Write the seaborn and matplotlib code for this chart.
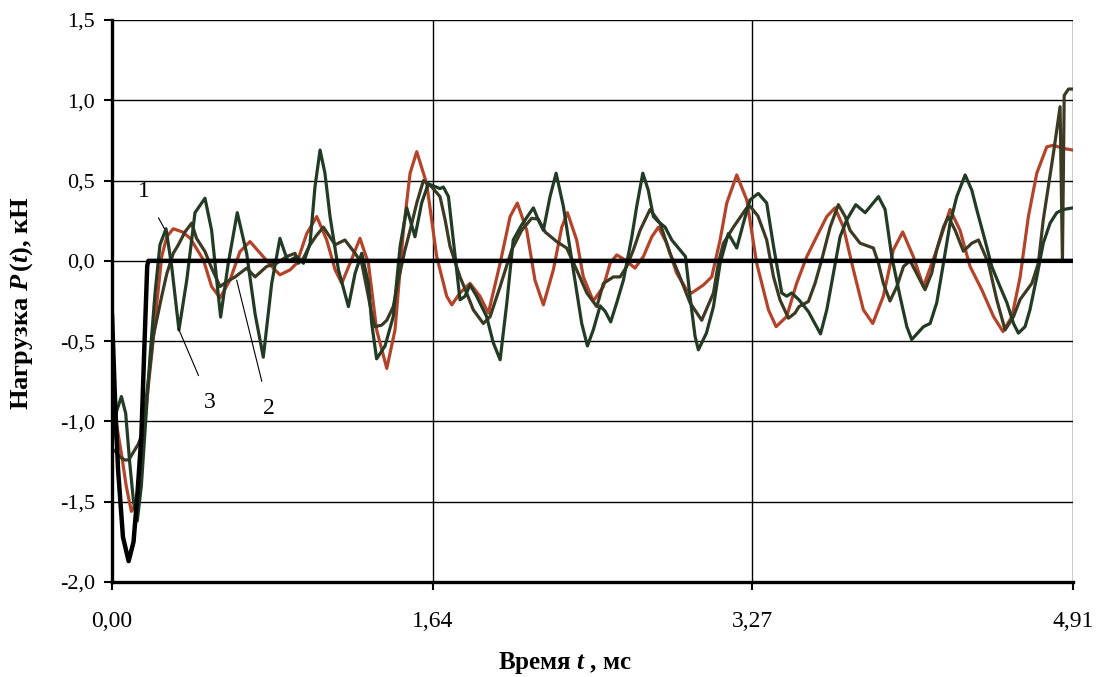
import matplotlib
matplotlib.use("Agg")
import matplotlib.pyplot as plt
import seaborn as sns
import numpy as np
import pandas as pd
from matplotlib.ticker import FuncFormatter, FixedLocator

# ---- data ----
t_load = [0.0, 0.015, 0.031, 0.056, 0.085, 0.11, 0.13, 0.15, 0.165, 0.18, 0.186, 4.91]
p_load = [-0.33, -0.85, -1.30, -1.72, -1.87, -1.75, -1.45, -1.09, -0.55, -0.03, 0.0, 0.0]

# curve 1 (red)
t_1 = [0.0, 0.022, 0.048, 0.073, 0.099, 0.124, 0.15, 0.175, 0.203, 0.23, 0.254, 0.28, 0.313,
       0.36, 0.40, 0.467, 0.509, 0.552, 0.603, 0.654, 0.705, 0.78, 0.824, 0.858, 0.91, 0.944,
       0.995, 1.046, 1.097, 1.14, 1.174, 1.216, 1.267, 1.31, 1.352, 1.404, 1.446, 1.489,
       1.523, 1.557, 1.608, 1.659, 1.71, 1.736, 1.778, 1.829, 1.88, 1.923, 1.983, 2.034,
       2.071, 2.119, 2.161, 2.204, 2.255, 2.298, 2.327, 2.374, 2.408, 2.459, 2.511, 2.545,
       2.579, 2.621, 2.672, 2.715, 2.758, 2.792, 2.834, 2.885, 2.936, 2.962, 3.022, 3.064,
       3.107, 3.141, 3.192, 3.243, 3.294, 3.354, 3.393, 3.447, 3.498, 3.55, 3.60, 3.652,
       3.694, 3.737, 3.788, 3.839, 3.887, 3.941, 3.992, 4.04, 4.094, 4.146, 4.214, 4.282,
       4.333, 4.384, 4.444, 4.504, 4.552, 4.598, 4.64, 4.682, 4.725, 4.776, 4.81, 4.861, 4.91]
p_1 = [-0.845, -1.01, -1.20, -1.405, -1.56, -1.51, -1.20, -0.90, -0.58, -0.25, 0.027, 0.15,
       0.20, 0.18, 0.14, 0.006, -0.16, -0.23, -0.12, 0.058, 0.12, 0.016, -0.045, -0.087,
       -0.056, -0.015, 0.17, 0.276, 0.13, -0.056, -0.14, -0.015, 0.14, -0.015, -0.43, -0.67,
       -0.43, 0.19, 0.546, 0.68, 0.48, 0.027, -0.22, -0.274, -0.20, -0.14, -0.22, -0.325,
       -0.015, 0.276, 0.36, 0.19, -0.12, -0.274, -0.056, 0.21, 0.30, 0.13, -0.10, -0.25,
       -0.16, -0.015, 0.037, 0.006, -0.045, 0.027, 0.15, 0.21, 0.11, -0.077, -0.18, -0.20,
       -0.15, -0.10, 0.13, 0.36, 0.535, 0.38, -0.015, -0.305, -0.41, -0.347, -0.14, 0.027,
       0.15, 0.276, 0.33, 0.21, -0.056, -0.305, -0.39, -0.22, 0.068, 0.18, 0.027, -0.16,
       0.07, 0.32, 0.19, -0.035, -0.18, -0.347, -0.44, -0.347, -0.10, 0.276, 0.546, 0.71,
       0.72, 0.70, 0.69]

# curve 2 (dark olive)
t_2 = [0.0, 0.02, 0.04, 0.065, 0.085, 0.10, 0.115, 0.135, 0.15, 0.17, 0.19, 0.211, 0.254,
       0.28, 0.313, 0.339, 0.373, 0.407, 0.432, 0.475, 0.509, 0.552, 0.586, 0.629, 0.688,
       0.731, 0.79, 0.841, 0.893, 0.935, 0.952, 0.978, 1.012, 1.046, 1.08, 1.14, 1.19, 1.242,
       1.276, 1.30, 1.327, 1.344, 1.378, 1.404, 1.437, 1.463, 1.497, 1.523, 1.557, 1.591,
       1.634, 1.676, 1.702, 1.727, 1.778, 1.812, 1.846, 1.897, 1.932, 1.983, 2.042, 2.093,
       2.144, 2.178, 2.213, 2.272, 2.323, 2.374, 2.426, 2.477, 2.511, 2.562, 2.596, 2.63,
       2.664, 2.698, 2.749, 2.80, 2.851, 2.894, 2.953, 3.013, 3.073, 3.098, 3.124, 3.175,
       3.243, 3.26, 3.30, 3.345, 3.38, 3.413, 3.456, 3.49, 3.51, 3.558, 3.592, 3.626, 3.669,
       3.711, 3.746, 3.771, 3.822, 3.89, 3.916, 3.941, 3.975, 4.01, 4.044, 4.078, 4.12,
       4.154, 4.188, 4.214, 4.248, 4.273, 4.308, 4.35, 4.393, 4.427, 4.478, 4.52, 4.563,
       4.606, 4.64, 4.70, 4.733, 4.758, 4.81, 4.844, 4.856, 4.865, 4.887, 4.91]
p_2 = [-1.17, -1.19, -1.22, -1.24, -1.24, -1.21, -1.18, -1.14, -1.09, -0.90, -0.70, -0.47,
       -0.22, -0.08, 0.047, 0.10, 0.18, 0.235, 0.14, 0.058, -0.045, -0.16, -0.13, -0.10,
       -0.045, -0.10, -0.035, -0.015, 0.027, 0.047, -0.015, 0.016, 0.10, 0.16, 0.21, 0.10,
       0.13, 0.047, -0.015, -0.16, -0.33, -0.41, -0.40, -0.37, -0.285, -0.12, 0.068, 0.19,
       0.36, 0.50, 0.46, 0.40, 0.255, 0.09, -0.10, -0.20, -0.305, -0.39, -0.347, -0.16,
       0.068, 0.19, 0.265, 0.26, 0.18, 0.12, 0.08, -0.056, -0.20, -0.285, -0.14, -0.10,
       -0.10, -0.035, 0.068, 0.19, 0.32, 0.235, 0.047, -0.077, -0.26, -0.37, -0.20, -0.015,
       0.11, 0.21, 0.33, 0.34, 0.28, 0.13, -0.10, -0.243, -0.357, -0.325, -0.285, -0.253,
       -0.14, 0.006, 0.21, 0.35, 0.276, 0.19, 0.11, 0.08, -0.015, -0.14, -0.25, -0.16,
       -0.035, 0.0, -0.10, -0.18, -0.077, 0.07, 0.21, 0.275, 0.19, 0.06, 0.11, 0.13, -0.015,
       -0.24, -0.43, -0.347, -0.24, -0.14, -0.015, 0.255, 0.67, 0.96, 0.0, 1.03, 1.07, 1.07]

# curve 3 (dark green)
t_3 = [0.0, 0.02, 0.048, 0.07, 0.09, 0.11, 0.129, 0.15, 0.167, 0.194, 0.22, 0.245, 0.276,
       0.305, 0.342, 0.382, 0.424, 0.475, 0.509, 0.535, 0.555, 0.594, 0.64, 0.688, 0.731,
       0.773, 0.816, 0.858, 0.884, 0.90, 0.944, 0.978, 1.012, 1.037, 1.063, 1.088, 1.114,
       1.157, 1.208, 1.242, 1.276, 1.31, 1.327, 1.352, 1.395, 1.437, 1.472, 1.506, 1.548,
       1.582, 1.616, 1.676, 1.693, 1.719, 1.744, 1.778, 1.804, 1.829, 1.863, 1.914, 1.948,
       1.983, 2.017, 2.05, 2.093, 2.153, 2.178, 2.204, 2.238, 2.269, 2.306, 2.357, 2.40,
       2.429, 2.459, 2.494, 2.52, 2.548, 2.579, 2.613, 2.656, 2.681, 2.712, 2.74, 2.766,
       2.79, 2.826, 2.86, 2.894, 2.93, 2.953, 2.979, 2.996, 3.037, 3.073, 3.107, 3.149,
       3.192, 3.226, 3.26, 3.302, 3.345, 3.38, 3.422, 3.447, 3.473, 3.51, 3.558, 3.60, 3.62,
       3.652, 3.686, 3.72, 3.754, 3.80, 3.848, 3.882, 3.916, 3.95, 3.984, 4.026, 4.061,
       4.086, 4.146, 4.18, 4.214, 4.248, 4.282, 4.316, 4.359, 4.393, 4.418, 4.46, 4.495,
       4.537, 4.572, 4.606, 4.631, 4.665, 4.69, 4.725, 4.758, 4.793, 4.827, 4.861, 4.91]
p_3 = [-1.156, -0.95, -0.845, -0.95, -1.25, -1.50, -1.62, -1.40, -1.09, -0.60, -0.20, 0.10,
       0.20, -0.035, -0.43, -0.12, 0.30, 0.39, 0.19, -0.12, -0.35, -0.015, 0.30, 0.047,
       -0.33, -0.60, -0.14, 0.14, 0.047, -0.004, 0.027, -0.015, 0.11, 0.46, 0.69, 0.546,
       0.276, -0.056, -0.285, -0.077, 0.047, -0.14, -0.39, -0.61, -0.53, -0.347, 0.09, 0.33,
       0.15, 0.36, 0.48, 0.45, 0.46, 0.40, 0.13, -0.243, -0.22, -0.15, -0.22, -0.347, -0.51,
       -0.616, -0.265, 0.13, 0.224, 0.33, 0.255, 0.19, 0.40, 0.546, 0.34, -0.056, -0.39,
       -0.53, -0.43, -0.28, -0.315, -0.38, -0.26, -0.12, 0.15, 0.34, 0.546, 0.44, 0.276,
       0.245, 0.21, 0.13, 0.08, 0.027, -0.22, -0.47, -0.554, -0.45, -0.285, -0.015, 0.17,
       0.08, 0.235, 0.38, 0.42, 0.36, 0.09, -0.20, -0.22, -0.20, -0.243, -0.316, -0.41,
       -0.455, -0.305, -0.077, 0.15, 0.255, 0.35, 0.30, 0.35, 0.40, 0.32, 0.027, -0.22,
       -0.41, -0.49, -0.41, -0.39, -0.26, -0.015, 0.235, 0.40, 0.535, 0.44, 0.32, 0.13,
       -0.035, -0.16, -0.26, -0.39, -0.45, -0.41, -0.305, -0.10, 0.11, 0.235, 0.30, 0.32,
       0.33]

x_ticks = [0.0, 1.64, 3.27, 4.91]
y_ticks = [-2.0, -1.5, -1.0, -0.5, 0.0, 0.5, 1.0, 1.5]
curve_labels = ["1", "2", "3"]

# ---- style ----
sns.set_theme(style="white")
plt.rcParams["font.family"] = ["Liberation Serif", "DejaVu Serif"]
plt.rcParams["text.color"] = "black"
plt.rcParams["axes.labelcolor"] = "black"
plt.rcParams["mathtext.fontset"] = "custom"
plt.rcParams["mathtext.rm"] = "Liberation Serif"
plt.rcParams["mathtext.it"] = "Liberation Serif:italic"
plt.rcParams["mathtext.bf"] = "Liberation Serif:bold"
plt.rcParams["mathtext.bfit"] = "Liberation Serif:italic:bold"

fig = plt.figure(figsize=(10.99, 6.77), dpi=100)
ax = fig.add_axes([112/1099, 1-582/677, (1073-112)/1099, (582-20)/677])

c_red = "#B3442A"
c_olive = "#3D3A23"
c_green = "#223B24"

sns.lineplot(x=t_1, y=p_1, ax=ax, color=c_red, lw=2.3, sort=False, estimator=None)
sns.lineplot(x=t_2, y=p_2, ax=ax, color=c_olive, lw=2.3, sort=False, estimator=None)
sns.lineplot(x=t_3, y=p_3, ax=ax, color=c_green, lw=2.3, sort=False, estimator=None)
sns.lineplot(x=t_load, y=p_load, ax=ax, color="black", lw=3.2, sort=False, estimator=None)
for l in ax.lines:
    l.set_solid_joinstyle("round")
    l.set_solid_capstyle("round")

ax.set_xlim(0, 4.91)
ax.set_ylim(-2.0, 1.5)
ax.xaxis.set_major_locator(FixedLocator(x_ticks))
ax.yaxis.set_major_locator(FixedLocator(y_ticks))
ax.xaxis.set_major_formatter(FuncFormatter(lambda v, p: f"{v:.2f}".replace(".", ",")))
ax.yaxis.set_major_formatter(FuncFormatter(lambda v, p: f"{v:.1f}".replace(".", ",")))

ax.grid(True, color="black", lw=1.0)
ax.set_axisbelow(True)
for s in ["top", "right"]:
    ax.spines[s].set_visible(False)
ax.spines["left"].set_color("black")
ax.spines["left"].set_linewidth(2.4)
ax.spines["bottom"].set_color("black")
ax.spines["bottom"].set_linewidth(2.4)

ax.tick_params(axis="both", which="major", direction="out", length=6, width=1.5,
               color="black", labelcolor="black", left=True, bottom=True)
ax.tick_params(axis="x", pad=15, labelsize=17)
ax.tick_params(axis="y", pad=6, labelsize=16)

ax.set_xlabel(r"Время $\mathbfit{t}$ , мс", fontsize=18, fontweight="bold", color="black")
ax.set_ylabel(r"Нагрузка $\mathbfit{P}\,\mathbf{(}\mathbfit{t}\mathbf{)}$, кН", fontsize=19,
              fontweight="bold", color="black")
ax.xaxis.set_label_coords((565 - 112) / 961, -(650 - 582) / 562)
ax.yaxis.set_label_coords(-(112 - 35) / 961, (582 - 303) / 562)

# curve labels with leader lines
ann = [(curve_labels[0], (0.165, 0.43), (0.268, 0.20)),
       (curve_labels[1], (0.80, -0.92), (0.637, -0.12)),
       (curve_labels[2], (0.50, -0.88), (0.339, -0.42))]
for txt, xyt, xy in ann:
    ax.annotate(txt, xy=xy, xytext=xyt, fontsize=17, ha="center", va="center", color="black",
                arrowprops=dict(arrowstyle="-", color="black", lw=0.8, shrinkA=10, shrinkB=0))

fig.savefig("out.png", dpi=100)
